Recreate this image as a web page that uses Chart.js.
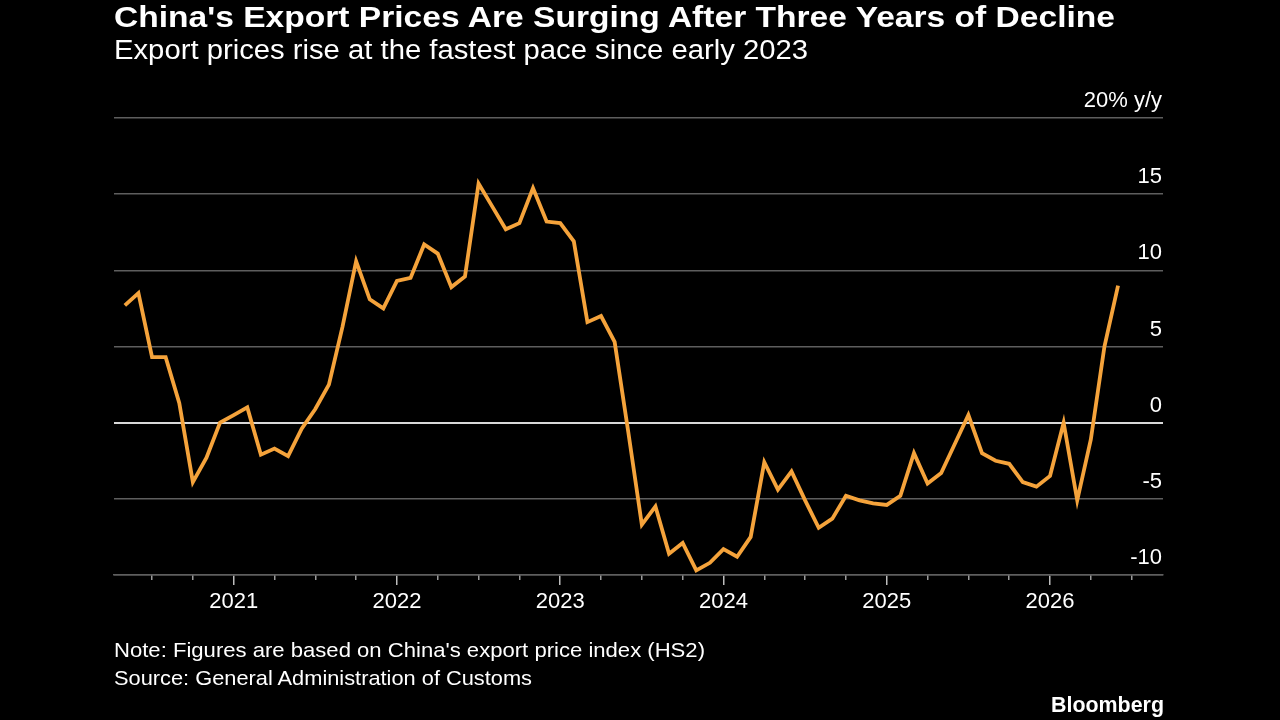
<!DOCTYPE html>
<html>
<head>
<meta charset="utf-8">
<script src="https://cdn.jsdelivr.net/npm/chart.js@4.4.1/dist/chart.umd.min.js"></script>
<style>
  html, body { margin:0; padding:0; background:#000; width:1280px; height:720px; overflow:hidden; }
  #wrap { position:relative; width:1280px; height:720px; background:#000; }
  #c { position:absolute; left:0; top:0; }
  .t { position:absolute; color:#fff; white-space:nowrap; transform-origin:0 0; line-height:1;
       font-family:"Liberation Sans","DejaVu Sans",Arial,sans-serif; }
</style>
</head>
<body>
<div id="wrap">
  <canvas id="c" width="1280" height="720"></canvas>
  <div class="t" id="title" style="font-weight:bold">China's Export Prices Are Surging After Three Years of Decline</div>
  <div class="t" id="subtitle">Export prices rise at the fastest pace since early 2023</div>
  <div class="t" id="note">Note: Figures are based on China's export price index (HS2)</div>
  <div class="t" id="source">Source: General Administration of Customs</div>
  <div class="t" id="brand" style="font-weight:bold">Bloomberg</div>
</div>
<script>
// ---------------- DATA ----------------
const monthLabels = [
  '2020-05','2020-06','2020-07','2020-08','2020-09','2020-10','2020-11','2020-12',
  '2021-01','2021-02','2021-03','2021-04','2021-05','2021-06','2021-07','2021-08','2021-09','2021-10','2021-11','2021-12',
  '2022-01','2022-02','2022-03','2022-04','2022-05','2022-06','2022-07','2022-08','2022-09','2022-10','2022-11','2022-12',
  '2023-01','2023-02','2023-03','2023-04','2023-05','2023-06','2023-07','2023-08','2023-09','2023-10','2023-11','2023-12',
  '2024-01','2024-02','2024-03','2024-04','2024-05','2024-06','2024-07','2024-08','2024-09','2024-10','2024-11','2024-12',
  '2025-01','2025-02','2025-03','2025-04','2025-05','2025-06','2025-07','2025-08','2025-09','2025-10','2025-11','2025-12',
  '2026-01','2026-02','2026-03','2026-04','2026-05','2026-06'
];
const exportPriceYoY = [
  7.7, 8.5, 4.3, 4.3, 1.3, -3.9, -2.3, 0.0,
  0.5, 1.0, -2.1, -1.7, -2.2, -0.4, 0.9, 2.5, 6.3, 10.6, 8.1, 7.5,
  9.3, 9.5, 11.7, 11.1, 8.9, 9.6, 15.7, 14.2, 12.7, 13.1, 15.4, 13.2,
  13.1, 11.9, 6.6, 7.0, 5.3, -0.6, -6.7, -5.5, -8.6, -7.9, -9.7, -9.2,
  -8.3, -8.8, -7.5, -2.6, -4.4, -3.2, -5.1, -6.9, -6.3, -4.8, -5.1, -5.3,
  -5.4, -4.8, -2.0, -4.0, -3.3, -1.4, 0.5, -2.0, -2.5, -2.7, -3.9, -4.2,
  -3.5, 0.0, -5.1, -1.1, 5.0, 9.0
];
const yTickValues = [-10, -5, 0, 5, 10, 15, 20];
const yearTicks = [2021, 2022, 2023, 2024, 2025, 2026];
const quarterTicks = [2020.5, 2020.75, 2021.25, 2021.5, 2021.75, 2022.25, 2022.5, 2022.75,
  2023.25, 2023.5, 2023.75, 2024.25, 2024.5, 2024.75, 2025.25, 2025.5, 2025.75, 2026.25, 2026.5];
const xMin = 2020.267, xMax = 2026.692;
const yMin = -10, yMax = 20;

// ---------------- BUILD ----------------
function monthToX(s) { const [y, m] = s.split('-').map(Number); return y + (m - 1) / 12; }
const points = monthLabels.map((m, i) => ({ x: monthToX(m), y: exportPriceYoY[i] }));

const FONT = '"Liberation Sans","DejaVu Sans",Arial,sans-serif';
Chart.defaults.font.family = FONT;

new Chart(document.getElementById('c'), {
  type: 'line',
  data: { datasets: [{
    data: points, borderColor: '#f5a33b', borderWidth: 3.8, pointRadius: 0,
    tension: 0, borderJoinStyle: 'miter', fill: false
  }]},
  options: {
    responsive: false, animation: false, devicePixelRatio: 1,
    layout: { padding: { left: 114, top: 118, right: 117, bottom: 105 } },
    plugins: { legend: { display: false }, tooltip: { enabled: false }, title: { display: false } },
    scales: {
      xq: {
        type: 'linear', position: 'bottom', weight: 0, min: xMin, max: xMax,
        afterBuildTicks: s => { s.ticks = quarterTicks.map(v => ({ value: v })); },
        afterFit: s => { s.height = 0; },
        grid: { drawOnChartArea: false, drawTicks: true, tickLength: 5, color: '#9a9a9a', lineWidth: 1.5 },
        border: { display: false },
        ticks: { display: false }
      },
      x: {
        type: 'linear', position: 'bottom', weight: 1, min: xMin, max: xMax,
        afterBuildTicks: s => { s.ticks = yearTicks.map(v => ({ value: v })); },
        afterFit: s => { s.height = 40; },
        grid: { drawOnChartArea: false, drawTicks: true, tickLength: 10, color: '#bdbdbd', lineWidth: 1.5 },
        border: { display: true, color: '#5e5e5e', width: 1.5 },
        ticks: { color: '#ffffff', font: { size: 22 }, padding: 4, maxRotation: 0, autoSkip: false,
                 callback: v => String(v) }
      },
      y: {
        position: 'right', min: yMin, max: yMax,
        afterBuildTicks: s => { s.ticks = yTickValues.map(v => ({ value: v })); },
        afterFit: s => { s.width = 0; },
        grid: { drawTicks: false,
                color: c => (c.tick && c.tick.value === 0) ? '#d8d8d8' : '#5e5e5e',
                lineWidth: c => (c.tick && c.tick.value === 0) ? 2 : 1.5 },
        border: { display: false },
        ticks: { mirror: true, padding: -1, labelOffset: -17, color: '#ffffff', font: { size: 22 },
                 callback: v => v === 20 ? '20% y/y' : String(v) }
      }
    }
  }
});

// ---------------- TEXT FITTING ----------------
const textSpec = [
  { id: 'title',    left: 114, width: 1001, cy: 17.5, size: 29 },
  { id: 'subtitle', left: 114, width: 694,  cy: 50.5, size: 27 },
  { id: 'note',     left: 114, width: 591,  cy: 649,  size: 21 },
  { id: 'source',   left: 114, width: 418,  cy: 677,  size: 21 },
  { id: 'brand',    right: 1164, width: 113, cy: 705, size: 22 }
];
textSpec.forEach(t => {
  const el = document.getElementById(t.id);
  el.style.fontSize = t.size + 'px';
  const w = el.getBoundingClientRect().width;
  const sx = t.width / w;
  el.style.transform = 'scaleX(' + sx + ')';
  el.style.top = (t.cy - 0.49 * t.size) + 'px';
  el.style.left = (t.left !== undefined ? t.left : t.right - t.width) + 'px';
});
</script>
</body>
</html>
